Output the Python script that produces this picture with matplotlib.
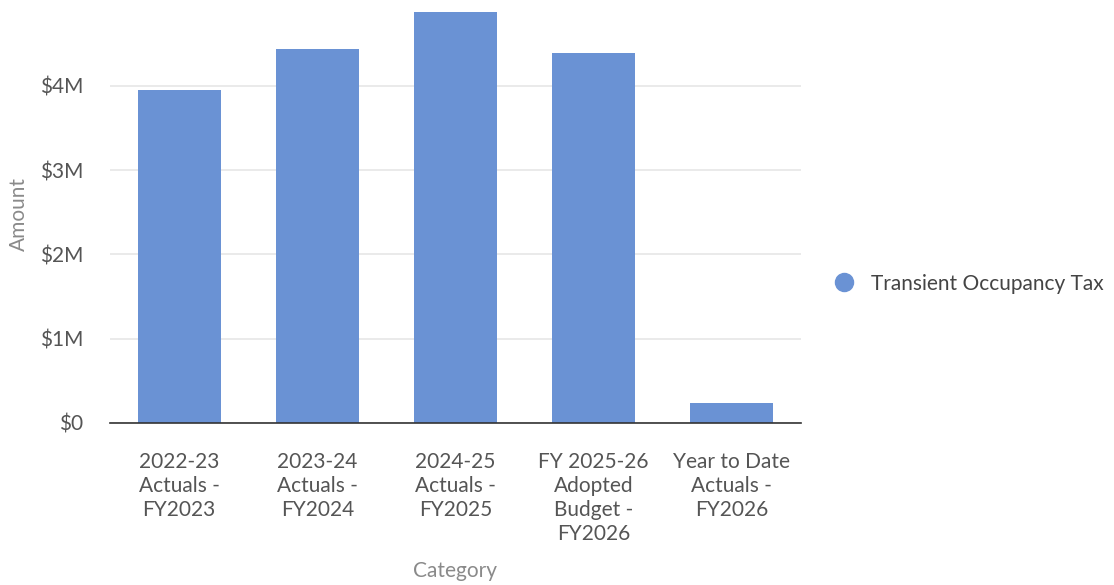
import matplotlib.pyplot as plt
from matplotlib.lines import Line2D
from matplotlib.ticker import FuncFormatter

plt.rcParams['font.family'] = ['Lato', 'DejaVu Sans']

categories = ['2022-23\nActuals -\nFY2023', '2023-24\nActuals -\nFY2024', '2024-25\nActuals -\nFY2025',
              'FY 2025-26\nAdopted\nBudget -\nFY2026', 'Year to Date\nActuals -\nFY2026']
amounts = [3950000, 4440000, 4880000, 4390000, 240000]
series_name = 'Transient Occupancy Tax'

bar_color = '#6a92d4'
text_color = '#555555'
fs = 15

fig = plt.figure(figsize=(11.14, 5.85), dpi=100)
ax = fig.add_axes([0.0987, 0.277, 0.6203, 0.713])

x = range(len(categories))
ax.bar(x, amounts, width=0.6, color=bar_color, zorder=3)

ax.set_xlim(-0.5, len(categories) - 0.5)
ax.set_ylim(0, 4950000)
ax.set_yticks([0, 1e6, 2e6, 3e6, 4e6])
ax.yaxis.set_major_formatter(FuncFormatter(lambda v, p: '$0' if v == 0 else '$%dM' % (v / 1e6)))
ax.grid(axis='y', color='#e6e6e6', linewidth=1.2, zorder=0)

ax.set_xticks(list(x))
ax.set_xticklabels(categories, linespacing=1.25)
ax.tick_params(axis='x', length=0, pad=21, labelsize=fs, labelcolor=text_color)
ax.tick_params(axis='y', length=0, pad=19, labelsize=fs, labelcolor=text_color)

for side in ['top', 'right', 'left']:
    ax.spines[side].set_visible(False)
ax.spines['bottom'].set_color('#333333')
ax.spines['bottom'].set_linewidth(1.2)
ax.spines['bottom'].set_zorder(4)

ax.set_ylabel('Amount', fontsize=fs, color='#8a8a8a', labelpad=8)
ax.set_xlabel('Category', fontsize=fs, color='#8a8a8a', labelpad=12)

handle = Line2D([], [], marker='o', linestyle='', markersize=13, color=bar_color)
fig.legend([handle], [series_name], loc='center left', bbox_to_anchor=(0.722, 0.515),
           frameon=False, fontsize=15, labelcolor='#444444', handletextpad=0.3)

fig.savefig('out.png', dpi=100)
